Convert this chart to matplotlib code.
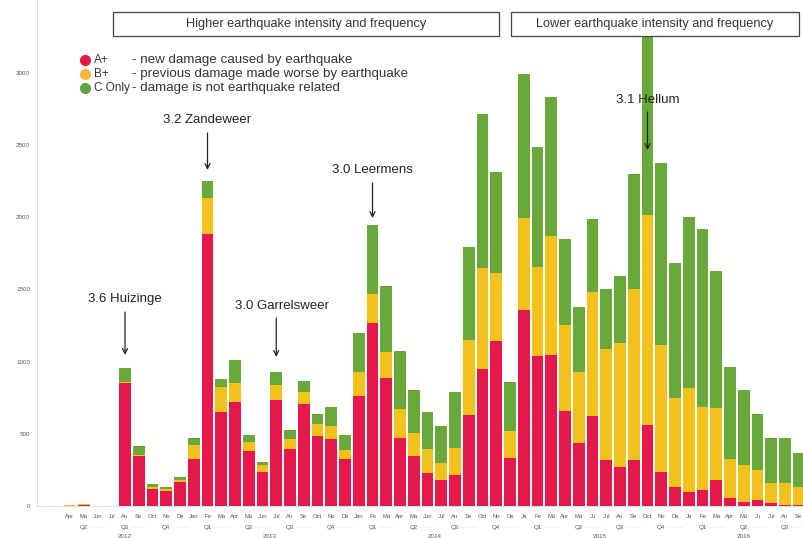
import matplotlib.pyplot as plt
from matplotlib.patches import Rectangle
from matplotlib.lines import Line2D
import numpy as np

plt.rcParams['font.family'] = ['Liberation Sans', 'DejaVu Sans']

# monthly damage reports, Apr 2012 - Sep 2016
month_labels = [
    'Apr', 'Ma', 'Jun', 'Jul', 'Au', 'Se', 'Oct', 'No', 'De',
    'Jan', 'Fe', 'Ma', 'Apr', 'Ma', 'Jun', 'Jul', 'Au', 'Se', 'Oct', 'No', 'De',
    'Jan', 'Fe', 'Ma', 'Apr', 'Ma', 'Jun', 'Jul', 'Au', 'Se', 'Oct', 'No', 'De',
    'Ja', 'Fe', 'Ma', 'Apr', 'Ma', 'Ju', 'Jul', 'Au', 'Se', 'Oct', 'No', 'De',
    'Ja', 'Fe', 'Ma', 'Apr', 'Ma', 'Ju', 'Jul', 'Au', 'Se',
]
quarter_labels = ['Q2', 'Q3', 'Q4'] + ['Q1', 'Q2', 'Q3', 'Q4'] * 3 + ['Q1', 'Q2', 'Q3']
year_labels = ['2012', '2013', '2014', '2015', '2016']
year_months = [9, 12, 12, 12, 9]

a_plus = [3, 8, 0, 0, 852, 346, 120, 104, 168,
          325, 1884, 649, 718, 383, 235, 734, 393, 704, 487, 462, 325,
          764, 1265, 888, 469, 348, 231, 180, 215, 630, 947, 1143, 330,
          1357, 1041, 1046, 658, 438, 623, 319, 272, 319, 561, 238, 130,
          99, 111, 180, 53, 30, 42, 19, 7, 10]
b_plus = [2, 3, 0, 0, 10, 5, 12, 12, 15,
          97, 251, 177, 136, 62, 49, 104, 69, 83, 81, 94, 63,
          166, 203, 176, 201, 160, 162, 116, 185, 520, 703, 468, 191,
          635, 616, 824, 595, 488, 861, 768, 855, 1182, 1454, 877, 616,
          716, 576, 501, 270, 254, 207, 138, 150, 124]
c_only = [0, 2, 0, 0, 94, 64, 18, 18, 16,
          47, 116, 51, 157, 45, 21, 92, 64, 81, 67, 127, 102,
          266, 476, 462, 403, 295, 260, 260, 392, 641, 1065, 700, 340,
          1000, 831, 964, 594, 454, 501, 414, 465, 796, 1315, 1258, 935,
          1184, 1229, 949, 642, 519, 386, 312, 312, 235]

# named earthquakes: month index, label
quakes = [(4, '3.6 Huizinge'), (10, '3.2 Zandeweer'), (15, '3.0 Garrelsweer'),
          (22, '3.0 Leermens'), (42, '3.1 Hellum')]
# text height, arrow start, arrow tip (value units)
quake_pos = [(1433, 1343, 1046), (2673, 2583, 2327), (1385, 1302, 1032),
             (2327, 2237, 1994), (2812, 2728, 2465)]
quake_dx = [0, 0, 0.45, 0, 0]

red = '#e5184b'
yellow = '#f2c21c'
green = '#69a83b'

fig = plt.figure(figsize=(8.04, 5.38), dpi=100)
ax = fig.add_axes([37 / 804, 32 / 538, 1 - 37 / 804, 506 / 538])

x = np.arange(len(month_labels))
a = np.array(a_plus)
b = np.array(b_plus)
c = np.array(c_only)
w = 0.84
ax.bar(x, a, w, color=red, zorder=2)
ax.bar(x, b, w, bottom=a, color=yellow, zorder=2)
ax.bar(x, c, w, bottom=a + b, color=green, zorder=2)

ax.set_xlim((37 - 70) / 13.75, (804 - 70) / 13.75)
ax.set_ylim(0, 506 * 6.925)

for s in ['top', 'right']:
    ax.spines[s].set_visible(False)
ax.spines['left'].set_color('#dcdcdc')
ax.spines['left'].set_linewidth(0.6)
ax.spines['bottom'].set_color('#d0d0d0')
ax.spines['bottom'].set_linestyle(':')
ax.spines['bottom'].set_linewidth(0.6)

ax.set_yticks([0, 500, 1000, 1500, 2000, 2500, 3000])
ax.tick_params(axis='y', length=0, pad=5, labelsize=4.5, labelcolor='#555555')
ax.set_xticks(x)
ax.set_xticklabels(month_labels)
ax.tick_params(axis='x', length=0, pad=6, labelsize=4.2, labelcolor='#555555')

# quarter and year rows under the months, quarters joined by faint dotted lines
xt = ax.get_xaxis_transform()
q_start = 0
for q in quarter_labels:
    ax.text(q_start + 1, -21 / 506, q, transform=xt, ha='center', va='center',
            fontsize=4.5, color='#555555')
    ax.plot([q_start + 1.45, q_start + 2.55], [-21 / 506] * 2, transform=xt,
            color='#d5d5d5', lw=0.5, ls=':', clip_on=False)
    q_start += 3
y_start = 0
for yr, n in zip(year_labels, year_months):
    ax.text(y_start + (n - 1) / 2, -31 / 506, yr, transform=xt,
            ha='center', va='center', fontsize=4.5, color='#555555', clip_on=False)
    y_start += n

# earthquake callouts
for (i, name), (ty, y0, y1), dx in zip(quakes, quake_pos, quake_dx):
    ax.text(i + dx, ty, name, ha='center', va='center', fontsize=9.5, color='#222222', zorder=5)
    ax.annotate('', xy=(i, y1), xytext=(i, y0),
                arrowprops=dict(arrowstyle='->', color='#222222', lw=0.9,
                                mutation_scale=9, shrinkA=0, shrinkB=0), zorder=5)

# legend
legend_rows = [('A+', '- new damage caused by earthquake', '#e8193e'),
               ('B+', '- previous damage made worse by earthquake', '#f2b838'),
               ('C Only', '- damage is not earthquake related', '#5ea43c')]
for k, (code, desc, col) in enumerate(legend_rows):
    yy = 1 - (60 + 14 * k) / 538
    fig.add_artist(Line2D([85 / 804], [yy], marker='o', markersize=7, color=col,
                          transform=fig.transFigure))
    fig.text(94 / 804, yy, code, fontsize=8.5, color='#333333', va='center')
    fig.text(132 / 804, yy, desc, fontsize=9.6, color='#333333', va='center')

# period boxes
for x0, x1, label in [(113, 499, 'Higher earthquake intensity and frequency'),
                      (511, 799, 'Lower earthquake intensity and frequency')]:
    fig.add_artist(Rectangle((x0 / 804, 1 - 36 / 538), (x1 - x0) / 804, 24 / 538,
                             transform=fig.transFigure, facecolor='white',
                             edgecolor='#444444', lw=0.9, zorder=6))
    fig.text((x0 + x1) / 2 / 804, 1 - 24 / 538, label, fontsize=9.2, color='#333333',
             ha='center', va='center', zorder=7)

fig.savefig('out.png', dpi=100)
